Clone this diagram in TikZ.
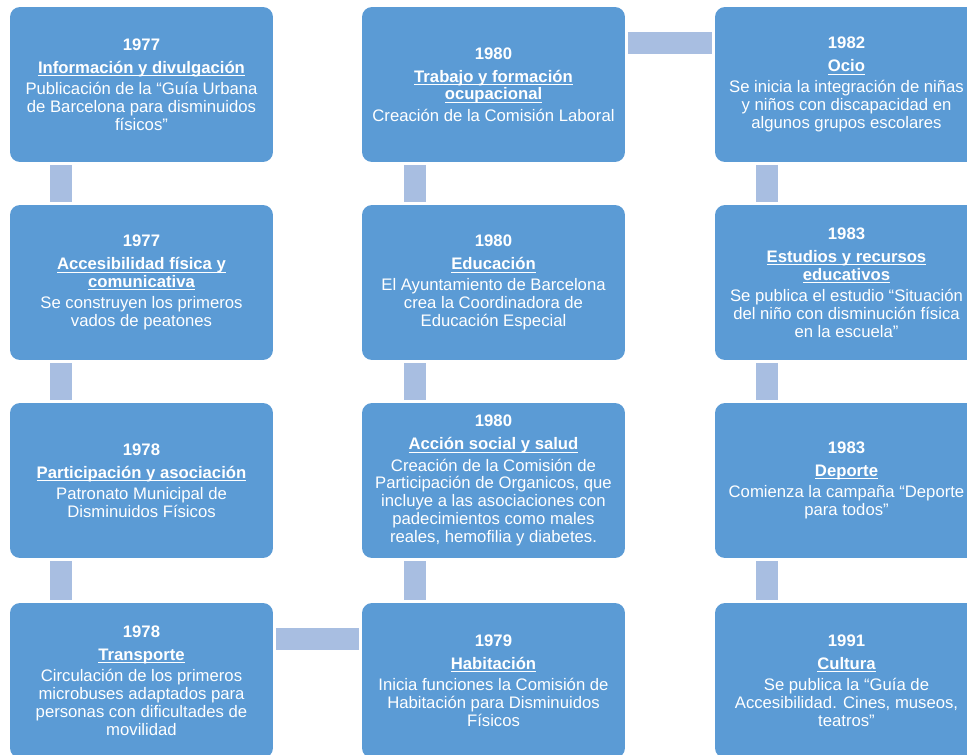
\documentclass[tikz,border=0pt]{standalone}
\usepackage{fontspec}
\setmainfont{Liberation Sans}
\definecolor{boxblue}{HTML}{5B9BD5}
\definecolor{linkblue}{HTML}{A8BEE1}
\newcommand{\hd}[1]{\textbf{\setbox0\hbox{#1}\rlap{\rule[-1.6pt]{\wd0}{0.55pt}}\box0}}
\begin{document}
\begin{tikzpicture}[x=0.02cm, y=-0.02cm,
    event/.style={rectangle, rounded corners=0.2cm, fill=boxblue,
      text=white, minimum width=5.26cm, minimum height=3.1cm,
      inner sep=0pt, align=center, font=\fontsize{9.5}{10.1}\selectfont},
    link/.style={draw=linkblue, line width=0.44cm, line cap=butt,
      shorten <=1.5pt, shorten >=1.5pt}]
    \useasboundingbox (0,0) rectangle (967,754);
    \clip (0,0) rectangle (967,754);

    \begin{scope}[every node/.style={event}]
      % first column
      \node (a1) at (141.5,84.5) {\textbf{1977}\\[3pt]
        \hd{Información y divulgación}\\[2pt] Publicación de la “Guía
        Urbana\\ de Barcelona para disminuidos\\ físicos”};
      \node (a2) at (141.5,282.5) {\textbf{1977}\\[3pt]
        \hd{Accesibilidad física y}\\ \hd{comunicativa}\\[2pt] Se
        construyen los primeros\\ vados de peatones};
      \node (a3) at (141.5,480.5) {\textbf{1978}\\[3pt]
        \hd{Participación y asociación}\\[2pt] Patronato Municipal
        de\\ Disminuidos Físicos};
      \node (a4) at (141.5,680.5) {\textbf{1978}\\[3pt]
        \hd{Transporte}\\[2pt] Circulación de los primeros\\
        microbuses adaptados para\\ personas con dificultades de\\
        movilidad};
      % second column
      \node (b1) at (493.5,84.5) {\textbf{1980}\\[3pt] \hd{Trabajo y
          formación}\\ \hd{ocupacional}\\[2pt] Creación de la Comisión
        Laboral};
      \node (b2) at (493.5,282.5) {\textbf{1980}\\[3pt]
        \hd{Educación}\\[2pt] El Ayuntamiento de Barcelona\\ crea la
        Coordinadora de\\ Educación Especial};
      \node (b3) at (493.5,480.5) {\textbf{1980}\\[3pt] \hd{Acción
          social y salud}\\[2pt] Creación de la Comisión de\\
        Participación de Organicos, que\\ incluye a las asociaciones
        con\\ padecimientos como males\\ reales, hemofilia y
        diabetes.};
      \node (b4) at (493.5,680.5) {\textbf{1979}\\[3pt]
        \hd{Habitación}\\[2pt] Inicia funciones la Comisión de\\
        Habitación para Disminuidos\\ Físicos};
      % third column
      \node (c1) at (846.5,84.5) {\textbf{1982}\\[3pt] \hd{Ocio}\\[2pt]
        Se inicia la integración de niñas\\ y niños con discapacidad
        en\\ algunos grupos escolares};
      \node (c2) at (846.5,282.5) {\textbf{1983}\\[3pt] \hd{Estudios y
          recursos}\\ \hd{educativos}\\[2pt] Se publica el estudio
        “Situación\\ del niño con disminución física\\ en la escuela”};
      \node (c3) at (846.5,480.5) {\textbf{1983}\\[3pt]
        \hd{Deporte}\\[2pt] Comienza la campaña “Deporte\\ para
        todos”};
      \node (c4) at (846.5,680.5) {\textbf{1991}\\[3pt]
        \hd{Cultura}\\[2pt] Se publica la “Guía de\\ Accesibilidad.
        Cines, museos,\\ teatros”};
    \end{scope}

    \begin{scope}[link]
      \draw ([xshift=1.03cm]a1.south west) -- ([xshift=1.03cm]a2.north west);
      \draw ([xshift=1.03cm]a2.south west) -- ([xshift=1.03cm]a3.north west);
      \draw ([xshift=1.03cm]a3.south west) -- ([xshift=1.03cm]a4.north west);
      \draw ([yshift=-0.72cm]a4.north east) -- ([yshift=-0.72cm]b4.north west);
      \draw ([xshift=1.06cm]b4.north west) -- ([xshift=1.06cm]b3.south west);
      \draw ([xshift=1.06cm]b3.north west) -- ([xshift=1.06cm]b2.south west);
      \draw ([xshift=1.06cm]b2.north west) -- ([xshift=1.06cm]b1.south west);
      \draw ([yshift=-0.73cm]b1.north east) -- ([yshift=-0.73cm]c1.north west);
      \draw ([xshift=1.05cm]c1.south west) -- ([xshift=1.05cm]c2.north west);
      \draw ([xshift=1.05cm]c2.south west) -- ([xshift=1.05cm]c3.north west);
      \draw ([xshift=1.05cm]c3.south west) -- ([xshift=1.05cm]c4.north west);
    \end{scope}
  \end{tikzpicture}
\end{document}
